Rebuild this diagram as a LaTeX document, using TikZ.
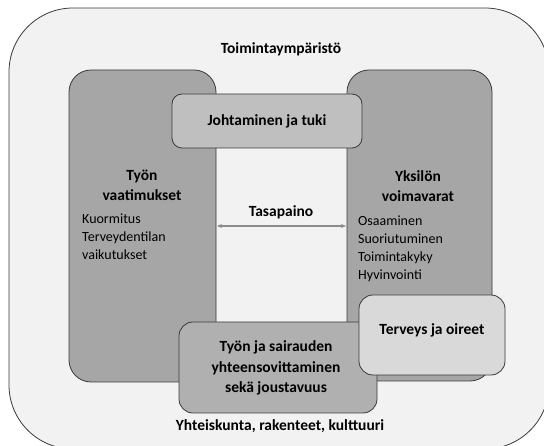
\documentclass[tikz,border=0pt]{standalone}
\usepackage{fontspec}
\setmainfont{Carlito}
\usetikzlibrary{arrows.meta}
\definecolor{outerfill}{HTML}{F2F2F2}
\definecolor{darkfill}{HTML}{A6A6A6}
\definecolor{midfill}{HTML}{BFBFBF}
\definecolor{botfill}{HTML}{B0B0B0}
\definecolor{lightfill}{HTML}{D9D9D9}
\definecolor{edge}{HTML}{3A3A3A}
\definecolor{arrowgray}{HTML}{8C8C8C}
\tikzset{
  boxedge/.style={draw=edge, line width=0.8pt},
  bigbox/.style={boxedge, fill=darkfill, rounded corners=22pt},
  midbox/.style={boxedge, fill=midfill, rounded corners=10pt},
  botbox/.style={boxedge, fill=botfill, rounded corners=14pt},
  lightbox/.style={boxedge, fill=lightfill, rounded corners=14pt},
  bold/.style={font=\fontsize{15.5}{20}\selectfont\bfseries, align=center, inner sep=0pt},
  plain/.style={font=\fontsize{14}{18}\selectfont, align=left, inner sep=0pt, anchor=north west},
}
\begin{document}
\begin{tikzpicture}[x=1pt,y=-1pt]
\useasboundingbox (0,0) rectangle (544,446);
\path[boxedge, fill=outerfill, rounded corners=64pt] (9,8) rectangle (549,449);
\path[bigbox] (69,70) rectangle (216,382);
\path[bigbox] (347,70) rectangle (492,381);
\node[midbox, minimum width=190pt, minimum height=54pt, inner sep=0pt] (lead) at (267,121) {};
\node[bold] at (lead.center) {Johtaminen ja tuki};
\node[bold] (env) at (281,49) {Toimintaympäristö};
\node[bold] (demand) at (142,185) {Työn\\vaatimukset};
\node[plain] (demandlist) at (82,214) {Kuormitus\\Terveydentilan\\vaikutukset};
\node[bold] (res) at (418,186) {Yksilön\\voimavarat};
\node[plain] (reslist) at (358,216) {Osaaminen\\Suoriutuminen\\Toimintakyky\\Hyvinvointi};
\coordinate (aL) at (217,226);
\coordinate (aR) at (346,226);
\draw[arrowgray, line width=1.2pt, {Stealth[length=5pt,width=4pt]}-{Stealth[length=5pt,width=4pt]}] (aL) -- (aR);
\node[bold] (bal) at (281,212) {Tasapaino};
\node[botbox, minimum width=198pt, minimum height=91pt, inner sep=0pt] (fit) at (278,367.5) {};
\node[bold, font=\fontsize{15.5}{20.5}\selectfont\bfseries] at (276,368) {Työn ja sairauden\\yhteensovittaminen\\sekä joustavuus};
\node[lightbox, minimum width=146pt, minimum height=80pt, inner sep=0pt] (health) at (432,335) {};
\node[bold] at (432,330) {Terveys ja oireet};
\node[bold] (soc) at (280,426) {Yhteiskunta, rakenteet, kulttuuri};
\end{tikzpicture}
\end{document}
